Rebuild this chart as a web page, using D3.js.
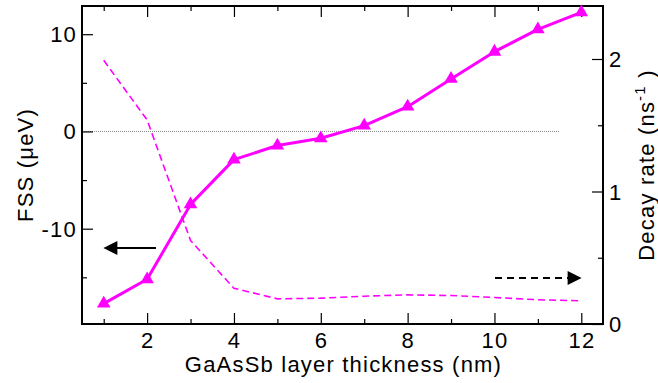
<!DOCTYPE html>
<html>
<head>
<meta charset="utf-8">
<script src="https://cdn.jsdelivr.net/npm/d3@7/dist/d3.min.js"></script>
<style>
  html, body { margin: 0; padding: 0; background: #fff; }
  svg { display: block; }
  text { font-family: "Liberation Sans", Arial, Helvetica, sans-serif; fill: #000; letter-spacing: 1.2px; }
</style>
</head>
<body>
<svg id="chart" width="658" height="383"></svg>
<script>
// Layer thickness (nm)
const thickness = [1, 2, 3, 4, 5, 6, 7, 8, 9, 10, 11, 12];
// Fine-structure splitting (μeV), left axis
const fss = [-17.7, -15.2, -7.5, -2.9, -1.45, -0.7, 0.6, 2.55, 5.4, 8.2, 10.5, 12.25];
// Decay rate (ns^-1), right axis
const decay = [1.99, 1.54, 0.63, 0.27, 0.19, 0.195, 0.21, 0.22, 0.215, 0.2, 0.183, 0.175];

const xMajor = [2, 4, 6, 8, 10, 12];
const xMinor = [1, 3, 5, 7, 9, 11];
const yLeftMajor = [-10, 0, 10];
const yLeftMinor = [-15, -5, 5];
const yRightMajor = [0, 1, 2];
const yRightMinor = [0.5, 1.5];

const M = { left: 82, right: 603, top: 6, bottom: 324 };
const magenta = "#ff00ff";

const svg = d3.select("#chart");

const x = d3.scaleLinear().domain([0.5, 12.5]).range([M.left, M.right]);
const yL = d3.scaleLinear().domain([-19.8, 12.9]).range([M.bottom, M.top]);
const yR = d3.scaleLinear().domain([0, 2.4]).range([M.bottom, M.top]);

const majorLen = 11, minorLen = 5, fontSize = 22;

// Zero reference line
svg.append("line")
  .attr("x1", M.left).attr("x2", 560)
  .attr("y1", yL(0)).attr("y2", yL(0))
  .attr("stroke", "#888").attr("stroke-width", 1)
  .attr("stroke-dasharray", "1,1");

// Axes: ticks point inward, labels drawn separately
function tickAxis(axisFn, scale, vals, len, transform) {
  const g = svg.append("g").attr("transform", transform)
    .call(axisFn(scale).tickValues(vals).tickSize(len).tickFormat(""));
  g.select(".domain").remove();
  g.selectAll(".tick line").attr("stroke", "#000").attr("stroke-width", 1.2);
  return g;
}
// bottom (ticks upward) and top (ticks downward)
tickAxis(d3.axisTop, x, xMajor, majorLen, `translate(0,${M.bottom})`);
tickAxis(d3.axisTop, x, xMinor, minorLen, `translate(0,${M.bottom})`);
tickAxis(d3.axisBottom, x, xMajor, majorLen, `translate(0,${M.top})`);
tickAxis(d3.axisBottom, x, xMinor, minorLen, `translate(0,${M.top})`);
// left (ticks rightward)
tickAxis(d3.axisRight, yL, yLeftMajor, majorLen, `translate(${M.left},0)`);
tickAxis(d3.axisRight, yL, yLeftMinor, minorLen, `translate(${M.left},0)`);
// right (ticks leftward)
tickAxis(d3.axisLeft, yR, yRightMajor, majorLen, `translate(${M.right},0)`);
tickAxis(d3.axisLeft, yR, yRightMinor, minorLen, `translate(${M.right},0)`);

// Frame
svg.append("rect")
  .attr("x", M.left).attr("y", M.top)
  .attr("width", M.right - M.left).attr("height", M.bottom - M.top)
  .attr("fill", "none").attr("stroke", "#000").attr("stroke-width", 2);

// Tick labels
svg.append("g").selectAll("text").data(xMajor).join("text")
  .attr("x", d => x(d) + 0.6).attr("y", 348)
  .attr("text-anchor", "middle").attr("font-size", fontSize)
  .text(d => d);
svg.append("g").selectAll("text").data(yLeftMajor).join("text")
  .attr("x", 77).attr("y", d => yL(d) + 8)
  .attr("text-anchor", "end").attr("font-size", fontSize)
  .text(d => d);
svg.append("g").selectAll("text").data(yRightMajor).join("text")
  .attr("x", 609).attr("y", d => yR(d) + 8)
  .attr("text-anchor", "start").attr("font-size", fontSize)
  .text(d => d);

// Axis titles
svg.append("text")
  .attr("x", (M.left + M.right) / 2 + 1).attr("y", 372)
  .attr("text-anchor", "middle").attr("font-size", fontSize)
  .text("GaAsSb layer thickness (nm)");
svg.append("text")
  .attr("transform", `translate(33,${(M.top + M.bottom) / 2}) rotate(-90)`)
  .attr("text-anchor", "middle").attr("font-size", fontSize)
  .text("FSS (μeV)");
const rt = svg.append("text")
  .attr("transform", `translate(654,${(M.top + M.bottom) / 2}) rotate(-90)`)
  .attr("text-anchor", "middle").attr("font-size", fontSize);
rt.append("tspan").text("Decay rate (ns");
rt.append("tspan").attr("font-size", 15).attr("dy", -9).text("-1");
rt.append("tspan").attr("dy", 9).text(" )");

// Decay rate: dashed curve on right axis
const pts = thickness.map((t, i) => ({ t, f: fss[i], d: decay[i] }));
svg.append("path").datum(pts)
  .attr("fill", "none").attr("stroke", magenta).attr("stroke-width", 1.6)
  .attr("stroke-dasharray", "7,4")
  .attr("d", d3.line().x(p => x(p.t)).y(p => yR(p.d)));

// FSS: solid line with triangle markers on left axis
svg.append("path").datum(pts)
  .attr("fill", "none").attr("stroke", magenta).attr("stroke-width", 3)
  .attr("stroke-linejoin", "round")
  .attr("d", d3.line().x(p => x(p.t)).y(p => yL(p.f)));
svg.append("g").selectAll("path").data(pts).join("path")
  .attr("transform", p => `translate(${x(p.t)},${yL(p.f)})`)
  .attr("d", d3.symbol(d3.symbolTriangle, 80))
  .attr("fill", magenta);

// Direction arrows: solid (left axis) and dashed (right axis)
const defs = svg.append("defs");
defs.append("marker").attr("id", "head")
  .attr("viewBox", "0 0 10 10").attr("refX", 1).attr("refY", 5)
  .attr("markerUnits", "userSpaceOnUse")
  .attr("markerWidth", 15).attr("markerHeight", 14)
  .attr("orient", "auto")
  .append("path").attr("d", "M0,0L10,5L0,10Z").attr("fill", "#000");

svg.append("line")
  .attr("x1", 156).attr("y1", 248).attr("x2", 116).attr("y2", 248)
  .attr("stroke", "#000").attr("stroke-width", 2)
  .attr("marker-end", "url(#head)");
svg.append("line")
  .attr("x1", 495).attr("y1", 278).attr("x2", 569).attr("y2", 278)
  .attr("stroke", "#000").attr("stroke-width", 2)
  .attr("stroke-dasharray", "7,5")
  .attr("marker-end", "url(#head)");
</script>
</body>
</html>
